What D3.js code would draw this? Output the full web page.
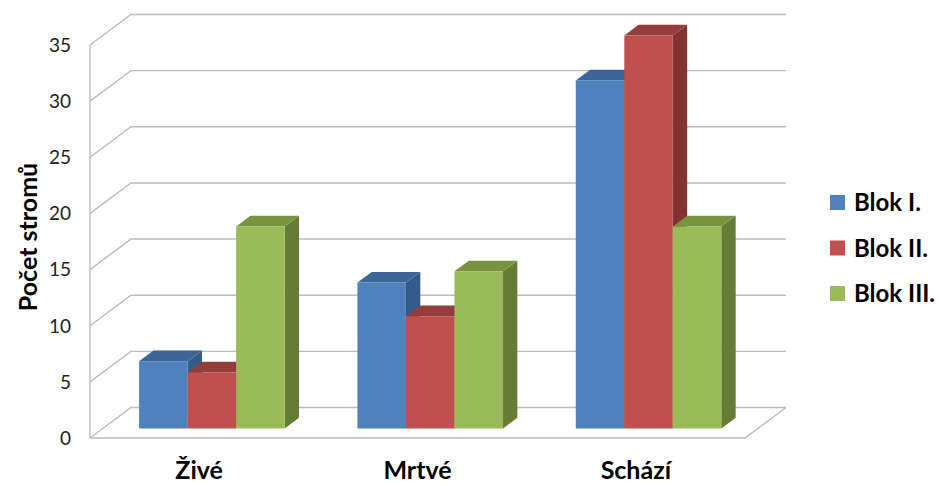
<!DOCTYPE html>
<html>
<head>
<meta charset="utf-8">
<script src="https://cdn.jsdelivr.net/npm/d3@7"></script>
<style>
  html, body { margin: 0; padding: 0; background: #fff; }
  svg { display: block; }
  text { font-family: Lato, "Open Sans", sans-serif; fill: #000; }
</style>
</head>
<body>
<svg id="chart" width="945" height="486"></svg>
<script>
// Counts of trees per category and block
const categories = ["Živé", "Mrtvé", "Schází"];
const seriesNames = ["Blok I.", "Blok II.", "Blok III."];
const blok1 = [6, 13, 31];
const blok2 = [5, 10, 35];
const blok3 = [18, 14, 18];
const yTicks = [0, 5, 10, 15, 20, 25, 30, 35];
const yTitle = "Počet stromů";

const seriesValues = [blok1, blok2, blok3];
const palette = [
  { front: "#4f81bd", top: "#3b6597", side: "#335a89" },
  { front: "#c0504d", top: "#953d3b", side: "#813231" },
  { front: "#9bbb59", top: "#789440", side: "#657c34" }
];

const svg = d3.select("#chart");

// Front plane scales; depth is an oblique offset towards the back wall
const y = d3.scaleLinear().domain([0, 35]).range([438, 45]);
const x0 = d3.scaleBand().domain(categories).range([90, 745])
  .paddingInner(1 / 3).paddingOuter(1 / 6);
const x1 = d3.scaleBand().domain(seriesNames).range([0, x0.bandwidth()]);
const depth = { dx: 41, dy: -30.5 };
const zFront = 0.31, zBack = 0.66;

const P = (x, v, z) => [x + z * depth.dx, y(v) + z * depth.dy];
const poly = pts => "M" + pts.map(p => p.join(",")).join("L") + "Z";

// Walls: gridlines on the side wall and back wall
const grid = svg.append("g")
  .attr("fill", "none")
  .attr("stroke", "#bcbcbc")
  .attr("stroke-width", 1.4);

yTicks.forEach(t => {
  const a = P(90, t, 0), b = P(90, t, 1);
  const c = P(745, t, 1);
  grid.append("path").attr("d", "M" + a + "L" + b + "L" + c);
});
// front edge of the side wall
grid.append("path").attr("d", "M" + P(90, 0, 0) + "L" + P(90, 35, 0));
// floor front and right edges
grid.append("path").attr("d", "M" + P(90, 0, 0) + "L" + P(745, 0, 0) + "L" + P(745, 0, 1));

// Tick labels
svg.append("g").selectAll("text").data(yTicks).join("text")
  .attr("x", 71)
  .attr("y", d => y(d))
  .attr("dy", "0.36em")
  .attr("text-anchor", "end")
  .style("font-size", "19px")
  .style("fill", "#222")
  .text(d => d);

// Axis title
svg.append("text")
  .attr("transform", "translate(37,237) rotate(-90)")
  .attr("text-anchor", "middle")
  .style("font-size", "25px")
  .style("font-weight", "bold")
  .text(yTitle);

// Bars: drawn left to right so neighbouring fronts cover hidden side faces
const bars = svg.append("g");
categories.forEach((cat, ci) => {
  seriesNames.forEach((s, si) => {
    const v = seriesValues[si][ci];
    const xl = x0(cat) + x1(s);
    const xr = xl + x1.bandwidth();
    const col = palette[si];
    const g = bars.append("g");
    // right side face
    g.append("path")
      .attr("d", poly([P(xr, 0, zFront), P(xr, 0, zBack), P(xr, v, zBack), P(xr, v, zFront)]))
      .attr("fill", col.side);
    // top face
    g.append("path")
      .attr("d", poly([P(xl, v, zFront), P(xl, v, zBack), P(xr, v, zBack), P(xr, v, zFront)]))
      .attr("fill", col.top);
    // front face
    g.append("path")
      .attr("d", poly([P(xl, 0, zFront), P(xl, v, zFront), P(xr, v, zFront), P(xr, 0, zFront)]))
      .attr("fill", col.front);
  });
});

// Category labels
svg.append("g").selectAll("text").data(categories).join("text")
  .attr("x", d => x0(d) + x0.bandwidth() / 2)
  .attr("y", 479)
  .attr("text-anchor", "middle")
  .style("font-size", "25px")
  .style("font-weight", "bold")
  .text(d => d);

// Legend
const legend = svg.append("g");
seriesNames.forEach((s, i) => {
  const yy = 195 + i * 45.5;
  legend.append("rect")
    .attr("x", 830).attr("y", yy)
    .attr("width", 15).attr("height", 15)
    .attr("fill", palette[i].front);
  legend.append("text")
    .attr("x", 854).attr("y", yy + 16)
    .style("font-size", "24px")
    .style("font-weight", "bold")
    .text(s);
});
</script>
</body>
</html>
